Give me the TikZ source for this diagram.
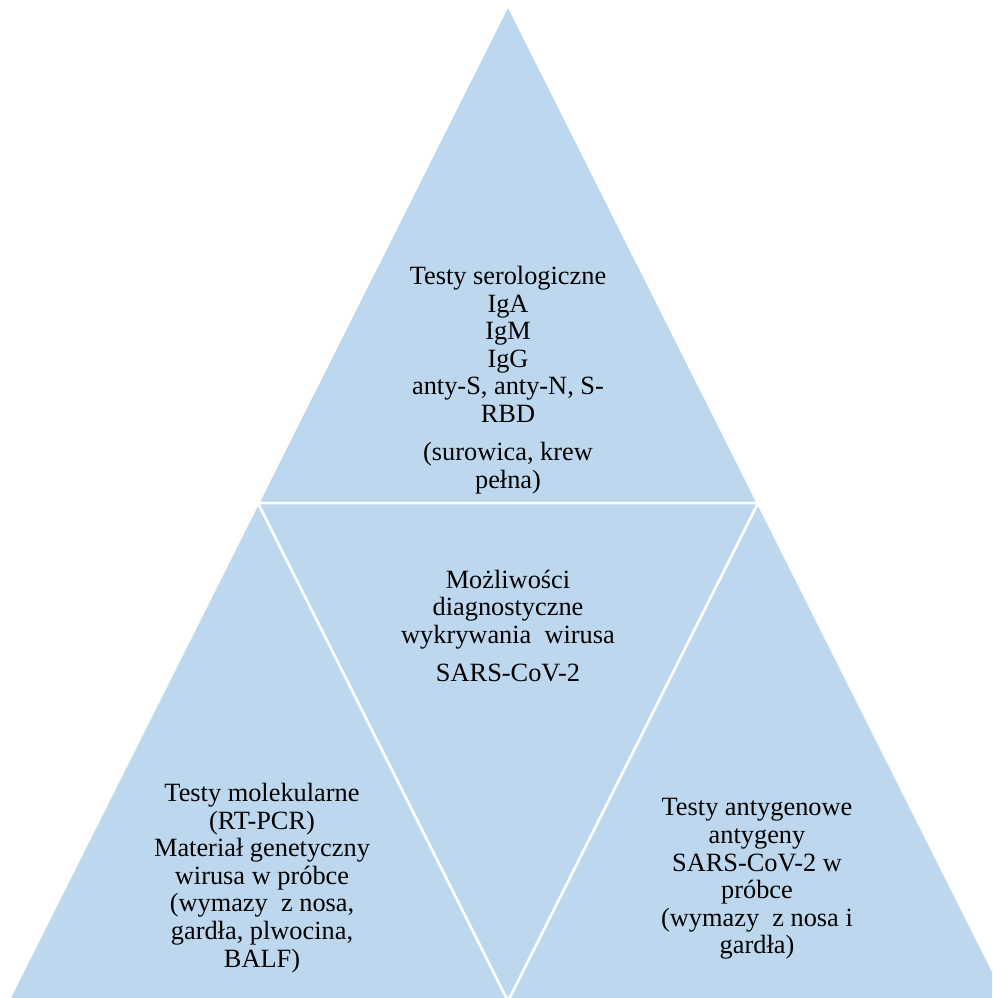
\documentclass[tikz,border=0pt]{standalone}
\usepackage{fontspec}
\setmainfont{Liberation Serif}
\usetikzlibrary{positioning}
\definecolor{segblue}{RGB}{189,215,238}

\begin{document}
\begin{tikzpicture}[
  x=0.02cm, y=-0.02cm,
  seg/.style={fill=segblue, draw=white, line width=0.05cm, line join=miter},
  lbl/.style={align=center, font=\fontsize{15}{15.7}\selectfont, text=black, inner sep=0pt}
]
  \useasboundingbox (0,0) rectangle (992,998);
  \begin{scope}
    \clip (0,0) rectangle (992,998);
    \coordinate (apex) at (508,5);
    \coordinate (bl) at (258,503);
    \coordinate (br) at (758,503);
    \coordinate (lo) at (8,1001);
    \coordinate (mid) at (508,1001);
    \coordinate (ro) at (1008,1001);
    \draw[seg] (apex) -- (bl) -- (br) -- cycle;
    \draw[seg] (bl) -- (lo) -- (mid) -- cycle;
    \draw[seg] (br) -- (mid) -- (ro) -- cycle;
    \draw[seg] (bl) -- (br) -- (mid) -- cycle;
  \end{scope}

  \node[lbl] (sero) at (508,380) {Testy serologiczne\\ IgA\\ IgM\\ IgG\\ anty-S, anty-N, S-\\ RBD\\[6pt] (surowica, krew\\ pełna)};
  \node[lbl] (diag) at (508,626) {Możliwości\\ diagnostyczne\\ wykrywania\ \ wirusa\\[6pt] SARS-CoV-2};
  \node[lbl] (mol) at (262,878) {Testy molekularne\\ (RT-PCR)\\ Materiał genetyczny\\ wirusa w próbce\\ (wymazy\ \ z nosa,\\ gardła, plwocina,\\ BALF)};
  \node[lbl] (ant) at (757,879) {Testy antygenowe\\ antygeny\\ SARS-CoV-2 w\\ próbce\\ (wymazy\ \ z nosa i\\ gardła)};
\end{tikzpicture}
\end{document}
